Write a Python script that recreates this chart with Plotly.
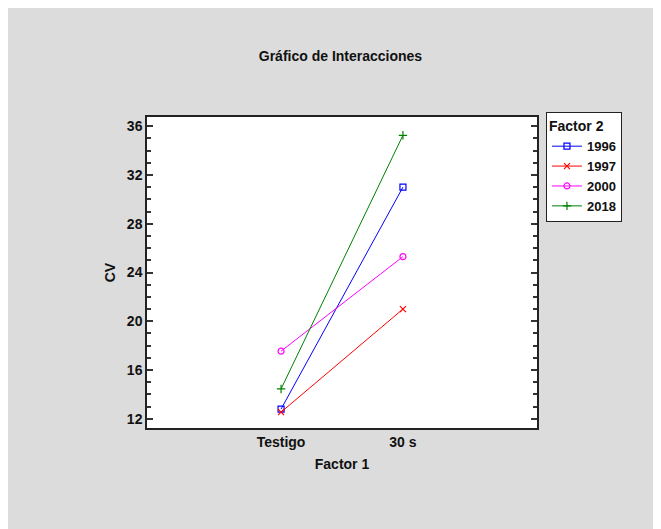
import plotly.graph_objects as go

factor1 = ["Testigo", "30 s"]
x_pos = [1, 2]
years = ["1996", "1997", "2000", "2018"]
cv_1996 = [12.8, 31.0]
cv_1997 = [12.55, 21.0]
cv_2000 = [17.55, 25.3]
cv_2018 = [14.45, 35.25]

series = [cv_1996, cv_1997, cv_2000, cv_2018]
colors = ["#0000FF", "#FF0000", "#FF00FF", "#008000"]
symbols = ["square-open", "x-thin-open", "circle-open", "cross-thin-open"]

FONT = "Liberation Sans Narrow, Arial Narrow, Liberation Sans, sans-serif"

fig = go.Figure()
for name, vals, c, s in zip(years, series, colors, symbols):
    fig.add_trace(go.Scatter(
        x=x_pos, y=vals, name=name, mode="lines+markers",
        line=dict(color=c, width=1),
        marker=dict(symbol=s, size=6, color=c, line=dict(color=c, width=1.2)),
    ))

fig.update_layout(
    width=661, height=529,
    paper_bgcolor="#DCDCDC", plot_bgcolor="white",
    margin=dict(l=139, r=132, t=109, b=109),
    font=dict(family=FONT, size=14, color="#111"),
    title=dict(text="<b>Gráfico de Interacciones</b>", x=0.503, xanchor="center",
               y=1 - 48 / 529, yanchor="middle", font=dict(size=14, family=FONT)),
    showlegend=True,
    legend=dict(
        title=dict(text="<b>Factor 2</b>", font=dict(size=14, family=FONT)),
        x=1.023, y=1.016, xanchor="left", yanchor="top",
        bgcolor="white", bordercolor="#222", borderwidth=1,
        font=dict(size=13, family=FONT, weight="bold"),
        tracegroupgap=0, itemwidth=30,
    ),
)

fig.update_xaxes(
    range=[-0.1, 3.1], tickvals=x_pos, ticktext=["<b>%s</b>" % t for t in factor1],
    showgrid=False, zeroline=False, showline=True, linecolor="#222", linewidth=1.5,
    mirror=True, ticks="", tickfont=dict(size=14, family=FONT),
    title=dict(text="<b>Factor 1</b>", font=dict(size=14, family=FONT), standoff=11),
)
fig.update_yaxes(
    range=[11.25, 36.75], tickvals=[12, 16, 20, 24, 28, 32, 36],
    ticktext=["<b>%d</b>" % v for v in [12, 16, 20, 24, 28, 32, 36]],
    showgrid=False, zeroline=False, showline=True, linecolor="#222", linewidth=1.5,
    mirror="ticks", ticks="inside", ticklen=6, tickwidth=1.5, tickcolor="#333",
    minor=dict(dtick=1, tick0=0, ticks="inside", ticklen=4, tickwidth=1.5, tickcolor="#333"),
    tickfont=dict(size=14, family=FONT),
    title=dict(text="<b>CV</b>", font=dict(size=14, family=FONT), standoff=8),
)

fig.write_html("out.html")
